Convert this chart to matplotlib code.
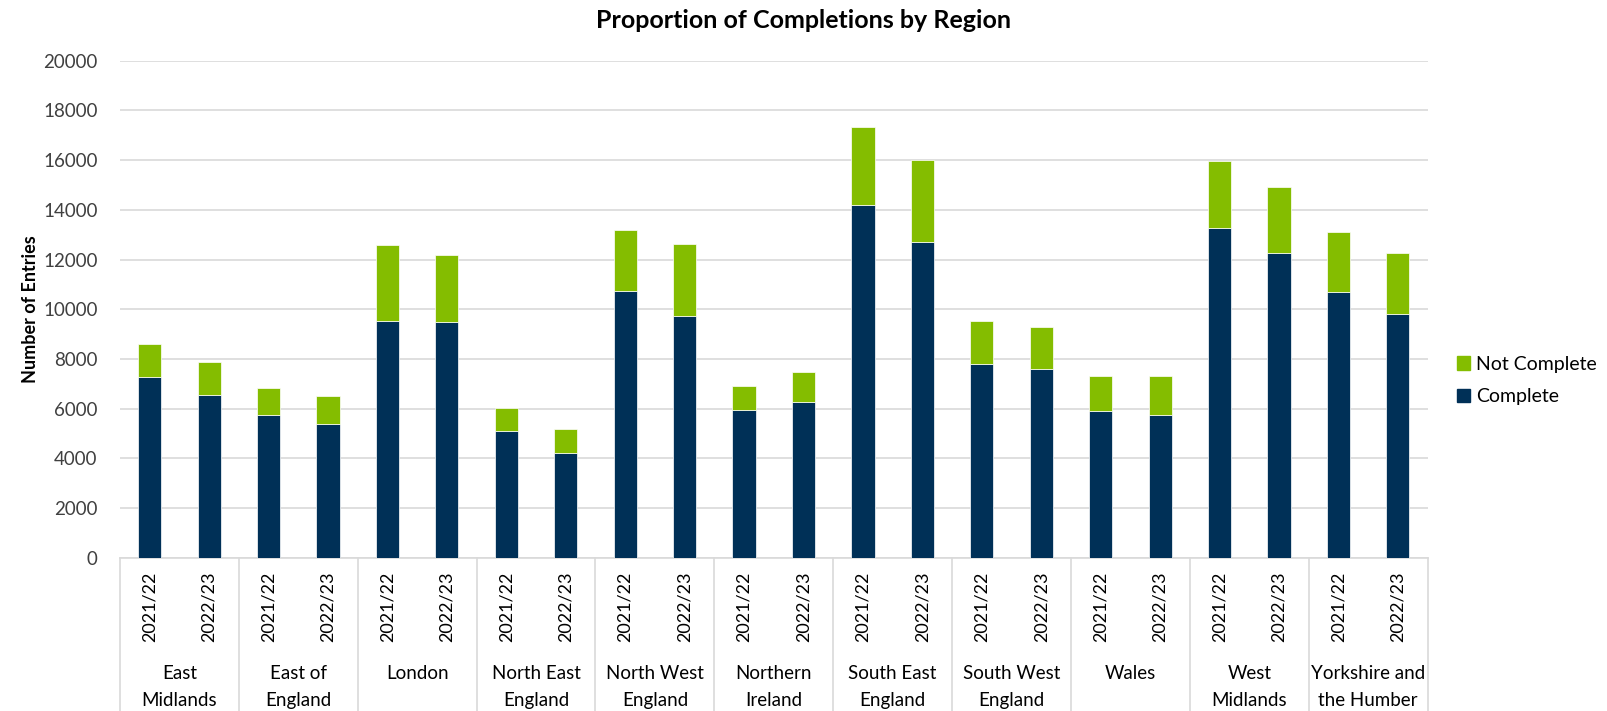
import numpy as np
import matplotlib.pyplot as plt
from matplotlib.patches import Patch
import matplotlib.transforms as mtransforms

plt.rcParams['font.family'] = ['Lato', 'DejaVu Sans']

regions = ['East\nMidlands', 'East of\nEngland', 'London', 'North East\nEngland',
           'North West\nEngland', 'Northern\nIreland', 'South East\nEngland',
           'South West\nEngland', 'Wales', 'West\nMidlands', 'Yorkshire and\nthe Humber']
years = ['2021/22', '2022/23']

complete = [7260, 6570, 5740, 5400, 9520, 9470, 5120, 4240, 10720, 9730, 5940,
            6280, 14200, 12710, 7810, 7600, 5890, 5740, 13260, 12280, 10680, 9800]
not_complete = [1330, 1300, 1080, 1110, 3080, 2700, 930, 930, 2480, 2910, 980,
                1210, 3130, 3300, 1710, 1700, 1440, 1590, 2690, 2620, 2410, 2470]

navy = '#003057'
green = '#84BD00'
grid_col = '#D9D9D9'

fig = plt.figure(figsize=(16.08, 7.11), dpi=100)
ax = fig.add_axes([0.0746, 0.2152, 0.8132, 0.6997])

x = np.arange(len(complete))
ax.bar(x, complete, width=0.39, color=navy, edgecolor='white', linewidth=0.5, zorder=3)
ax.bar(x, not_complete, width=0.39, bottom=complete, color=green,
       edgecolor='white', linewidth=0.5, zorder=3)

ax.set_xlim(-0.5, len(x) - 0.5)
ax.set_ylim(0, 20000)
ax.set_yticks(np.arange(0, 20001, 2000))
ax.yaxis.grid(True, color=grid_col, linewidth=1.2, zorder=0)
ax.tick_params(axis='y', length=0, pad=16, labelsize=13.5, labelcolor='#404040')
for s in ['top', 'right', 'left']:
    ax.spines[s].set_visible(False)
ax.spines['bottom'].set_color(grid_col)
ax.spines['bottom'].set_linewidth(1.2)

ax.set_xticks(x)
ax.set_xticklabels(years * len(regions), rotation=90, fontsize=13)
ax.tick_params(axis='x', length=0, pad=10)

trans = mtransforms.blended_transform_factory(ax.transData, ax.transAxes)
for i in range(len(regions) + 1):
    xb = 2 * i - 0.5
    ax.plot([xb, xb], [0, -0.33], transform=trans, color=grid_col,
            linewidth=1.2, clip_on=False)
for i, r in enumerate(regions):
    ax.text(2 * i + 0.5, -0.215, r, transform=trans, ha='center', va='top',
            fontsize=13.5, linespacing=1.7)

ax.set_ylabel('Number of Entries', fontsize=13, fontweight='bold', labelpad=3)
fig.text(0.5, 0.971, 'Proportion of Completions by Region', ha='center', va='center',
         fontsize=18, fontweight='bold')

handles = [Patch(color=green, label='Not Complete'), Patch(color=navy, label='Complete')]
fig.legend(handles=handles, loc='center left', bbox_to_anchor=(0.895, 0.465),
           frameon=False, fontsize=14, handlelength=0.7, handleheight=0.7,
           handletextpad=0.3, labelspacing=0.8)

fig.savefig('out.png', dpi=100)
